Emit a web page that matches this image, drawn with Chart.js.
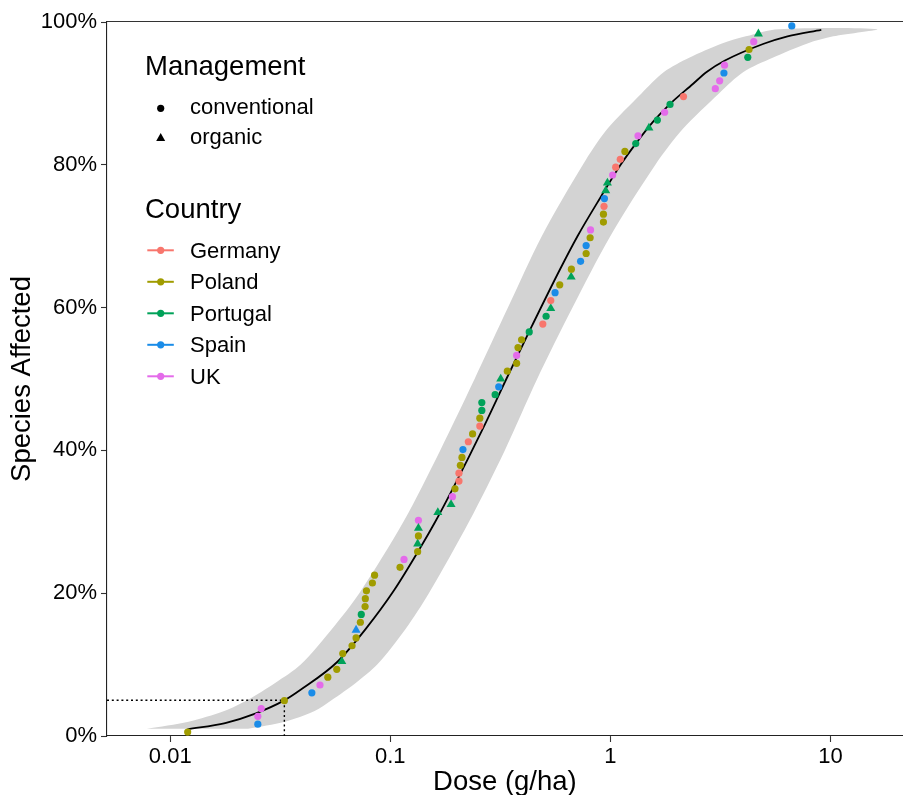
<!DOCTYPE html>
<html><head><meta charset="utf-8">
<script src="https://cdn.jsdelivr.net/npm/chart.js@4.4.1/dist/chart.umd.min.js"></script>
<style>
html,body{margin:0;padding:0;background:#fff;}
#wrap{position:relative;width:908px;height:795px;overflow:hidden;background:#fff;}
#c{position:absolute;left:0;top:0;}
#lgsvg{position:absolute;left:0;top:0;pointer-events:none;}
.lg{position:absolute;line-height:1;white-space:nowrap;color:#000;font-family:"Liberation Sans",Arial,Helvetica,sans-serif;}
</style></head>
<body>
<div id="wrap">
<canvas id="c" width="908" height="795"></canvas>
<svg id="lgsvg" width="908" height="795" xmlns="http://www.w3.org/2000/svg"></svg>
</div>
<script>
// ---------- data ----------
const xTickValues = [0.01, 0.1, 1, 10];
const xTickLabels = ['0.01', '0.1', '1', '10'];
const yTickValues = [0, 20, 40, 60, 80, 100];

const countries = ['Germany', 'Poland', 'Portugal', 'Spain', 'UK'];
const countryColors = ['#F8766D', '#A09C00', '#00A259', '#1A8CE8', '#E46BEA'];
const managementLevels = ['conventional', 'organic'];

const pointDose = [0.0120,0.0250,0.0250,0.0259,0.0330,0.0440,0.0479,0.0520,0.0571,0.0602,
  0.0608,0.0670,0.0699,0.0699,0.0731,0.0738,0.0768,0.0770,0.0779,0.0829,
  0.0848,0.1107,0.1154,0.1331,0.1331,0.1342,0.1342,0.1342,0.1644,0.1888,
  0.1915,0.1967,0.2051,0.2051,0.2081,0.2116,0.2138,0.2262,0.2365,0.2551,
  0.2551,0.2605,0.2605,0.2995,0.3109,0.3174,0.3402,0.3749,0.3749,0.3804,
  0.3949,0.4278,0.4932,0.5104,0.5359,0.5359,0.5605,0.5887,0.6634,0.6650,
  0.7322,0.7760,0.7760,0.8090,0.8124,0.9298,0.9298,0.9356,0.9395,0.9524,
  0.9694,1.024,1.057,1.109,1.164,1.304,1.335,1.497,1.635,1.764,
  1.867,2.149,2.998,3.138,3.281,3.300,4.211,4.268,4.482,4.707,6.673];
const pointPct = [0.55,1.65,2.75,3.85,4.95,6.04,7.14,8.24,9.34,10.44,
  11.54,12.64,13.74,14.84,15.93,17.03,18.13,19.23,20.33,21.43,
  22.53,23.63,24.73,25.82,26.92,28.02,29.12,30.22,31.32,32.42,
  33.52,34.62,35.71,36.81,37.91,39.01,40.11,41.21,42.31,43.41,
  44.51,45.60,46.70,47.80,48.90,50.00,51.10,52.20,53.30,54.40,
  55.49,56.59,57.69,58.79,59.89,60.99,62.09,63.19,64.29,65.38,
  66.48,67.58,68.68,69.78,70.88,71.98,73.08,74.18,75.27,76.37,
  77.47,78.57,79.67,80.77,81.87,82.97,84.07,85.16,86.26,87.36,
  88.46,89.56,90.66,91.76,92.86,93.96,95.05,96.15,97.25,98.35,99.45];
const pointCountry = ['Poland','Spain','UK','UK','Poland','Spain','UK','Poland','Poland','Portugal',
  'Poland','Poland','Poland','Spain','Poland','Portugal','Poland','Poland','Poland','Poland',
  'Poland','Poland','UK','Poland','Portugal','Poland','Portugal','UK','Portugal','Portugal',
  'UK','Poland','Germany','Germany','Poland','Poland','Spain','Germany','Poland','Germany',
  'Poland','Portugal','Portugal','Portugal','Spain','Portugal','Poland','Poland','UK','Poland',
  'Poland','Portugal','Germany','Portugal','Portugal','Germany','Spain','Poland','Portugal','Poland',
  'Spain','Poland','Spain','Poland','UK','Poland','Poland','Germany','Spain','Portugal',
  'Portugal','UK','Germany','Germany','Poland','Portugal','UK','Portugal','Portugal','UK',
  'Portugal','Germany','UK','UK','Spain','UK','Portugal','Poland','UK','Portugal','Spain'];
const pointManagement = ['conventional','conventional','conventional','conventional','conventional','conventional','conventional','conventional','conventional','organic',
  'conventional','conventional','conventional','organic','conventional','conventional','conventional','conventional','conventional','conventional',
  'conventional','conventional','conventional','conventional','organic','conventional','organic','conventional','organic','organic',
  'conventional','conventional','conventional','conventional','conventional','conventional','conventional','conventional','conventional','conventional',
  'conventional','conventional','conventional','conventional','conventional','organic','conventional','conventional','conventional','conventional',
  'conventional','conventional','conventional','conventional','organic','conventional','conventional','conventional','organic','conventional',
  'conventional','conventional','conventional','conventional','conventional','conventional','conventional','conventional','conventional','organic',
  'organic','conventional','conventional','conventional','conventional','conventional','conventional','organic','conventional','conventional',
  'conventional','conventional','conventional','conventional','conventional','conventional','conventional','conventional','conventional','organic','conventional'];

// fitted species-sensitivity curve
const curveDose = [0.01197,0.01777,0.02453,0.03281,0.03897,0.05753,0.07735,0.1040,0.1377,0.1600,
  0.1949,0.2610,0.3367,0.4412,0.5867,0.7088,0.9042,1.1130,1.3076,1.5607,
  1.8335,2.3772,2.7377,3.3161,4.9738,6.3823,9.0871];
const curvePct = [0.94,1.82,3.18,4.95,6.44,10.4,15.0,20.4,26.5,30.0,
  35.0,42.8,50.0,57.5,65.2,70.0,75.5,80.0,83.0,86.0,
  88.3,91.35,93.0,94.6,96.95,98.0,98.9];

// confidence band: dose range for each fraction affected
const bandPct = [1,2,3.5,5,7.5,10,15,20,30,40,50,60,70,80,85,90,93,95,97,98,99];
const bandDoseLow = [0.007816,0.01210,0.01759,0.02233,0.03019,0.03917,0.05430,0.07229,0.1147,0.1685,
  0.2415,0.3424,0.4877,0.7498,0.9673,1.3847,1.7512,2.2804,3.2137,4.1252,5.8126];
const bandDoseHigh = [0.02257,0.03315,0.04529,0.05403,0.07007,0.08717,0.1173,0.1497,0.2278,0.3312,
  0.4648,0.6729,0.9990,1.6015,2.1317,3.1146,4.0234,5.4604,7.8596,10.295,16.267];

// hazardous concentration reference (HC5)
const refDose = 0.033;
const refPct = 5;

// ---------- chart ----------
const FONT = '"Liberation Sans", Arial, Helvetica, sans-serif';
Chart.defaults.font.family = FONT;
Chart.defaults.color = '#000';
const X_MIN = 0.005159, X_MAX = 21.32;

const bandPoly = [];
for (let i = 0; i < bandPct.length; i++) bandPoly.push({x: bandDoseLow[i], y: bandPct[i]});
for (let i = bandPct.length - 1; i >= 0; i--) bandPoly.push({x: bandDoseHigh[i], y: bandPct[i]});

const curveData = curveDose.map((d, i) => ({x: d, y: curvePct[i]}));
const refData = [{x: X_MIN, y: refPct}, {x: refDose, y: refPct}, {x: refDose, y: 0}];

const pointSets = countries.map((c, ci) => {
  const data = [];
  for (let i = 0; i < pointDose.length; i++) {
    if (pointCountry[i] === c) data.push({x: pointDose[i], y: pointPct[i], m: pointManagement[i]});
  }
  return {
    label: c,
    data,
    showLine: false,
    backgroundColor: countryColors[ci],
    borderColor: countryColors[ci],
    pointBorderWidth: 0,
    pointStyle: ctx => (ctx.raw && ctx.raw.m === 'organic') ? 'triangle' : 'circle',
    pointRadius: ctx => (ctx.raw && ctx.raw.m === 'organic') ? 5.2 : 3.6,
    order: 1
  };
});

const datasets = [
  {
    label: 'band', data: bandPoly, showLine: true, fill: 'shape',
    backgroundColor: '#D3D3D3', borderColor: 'rgba(0,0,0,0)', borderWidth: 0,
    pointRadius: 0, tension: 0.3, order: 10
  },
  {
    label: 'curve', data: curveData, showLine: true, fill: false,
    borderColor: '#000', borderWidth: 1.8, pointRadius: 0,
    cubicInterpolationMode: 'monotone', order: 9
  },
  {
    label: 'hc5', data: refData, showLine: true, fill: false,
    borderColor: '#000', borderWidth: 1.4, borderDash: [2, 2.8], pointRadius: 0, order: 8
  },
  ...pointSets
];

new Chart(document.getElementById('c'), {
  type: 'scatter',
  data: {datasets},
  options: {
    responsive: false,
    animation: false,
    events: [],
    layout: {padding: 0},
    plugins: {legend: {display: false}, tooltip: {enabled: false}},
    scales: {
      x: {
        type: 'logarithmic', position: 'bottom', min: X_MIN, max: X_MAX,
        afterBuildTicks: s => { s.ticks = xTickValues.map(v => ({value: v})); },
        afterFit: s => { s.height = 59; },
        ticks: {autoSkip: false, maxRotation: 0, minRotation: 0, padding: 2, color: '#000',
          font: {size: 22}, callback: (v, i) => xTickLabels[i]},
        grid: {drawOnChartArea: false, drawTicks: true, tickLength: 6, tickColor: '#333', tickWidth: 1.1},
        border: {display: true, color: '#222', width: 1.1},
        title: {display: true, text: 'Dose (g/ha)', color: '#000', font: {size: 27.5, lineHeight: 0.9}, padding: {top: 0, bottom: 0}}
      },
      x2: {
        type: 'logarithmic', position: 'top', min: X_MIN, max: X_MAX,
        afterFit: s => { s.height = 22; },
        ticks: {display: false},
        grid: {display: false, drawTicks: false},
        border: {display: true, color: '#333', width: 1.1}
      },
      y: {
        type: 'linear', min: 0, max: 100,
        afterBuildTicks: s => { s.ticks = yTickValues.map(v => ({value: v})); },
        afterFit: s => { s.width = 107; },
        ticks: {padding: 4, color: '#000', font: {size: 22}, callback: v => v + '%'},
        grid: {drawOnChartArea: false, drawTicks: true, tickLength: 6, tickColor: '#333', tickWidth: 1.1},
        border: {display: true, color: '#222', width: 1.1},
        title: {display: true, text: 'Species Affected', color: '#000', font: {size: 27.5, lineHeight: 0.9}, padding: {top: 10, bottom: 0}}
      }
    }
  }
});

// ---------- legend (HTML text + SVG keys) ----------
const wrap = document.getElementById('wrap');
const svg = document.getElementById('lgsvg');
const NS = 'http://www.w3.org/2000/svg';
function addText(txt, left, baseline, size) {
  const d = document.createElement('div');
  d.className = 'lg';
  d.textContent = txt;
  d.style.left = left + 'px';
  d.style.top = (baseline - 0.8465 * size) + 'px';
  d.style.fontSize = size + 'px';
  wrap.appendChild(d);
}
function svgEl(tag, attrs) {
  const e = document.createElementNS(NS, tag);
  for (const k in attrs) e.setAttribute(k, attrs[k]);
  svg.appendChild(e);
  return e;
}
const KEY_X = 160.7;
addText('Management', 145, 75, 27.5);
const mgmtBaselines = [115, 145];
const mgmtKeyY = [108.3, 138.3];
managementLevels.forEach((m, i) => {
  addText(m, 190, mgmtBaselines[i], 22);
  if (m === 'organic') {
    const r = 5.2, cy = mgmtKeyY[i];
    svgEl('polygon', {points: `${KEY_X},${cy - r} ${KEY_X + r * 0.866},${cy + r / 2} ${KEY_X - r * 0.866},${cy + r / 2}`, fill: '#000'});
  } else {
    svgEl('circle', {cx: KEY_X, cy: mgmtKeyY[i], r: 3.6, fill: '#000'});
  }
});
addText('Country', 145, 218.3, 27.5);
countries.forEach((c, i) => {
  const base = 258.3 + i * 31.5;
  const cy = base - 8;
  addText(c, 190, base, 22);
  svgEl('line', {x1: 147.3, x2: 173.8, y1: cy, y2: cy, stroke: countryColors[i], 'stroke-width': 2});
  svgEl('circle', {cx: KEY_X, cy: cy, r: 3.6, fill: countryColors[i]});
});
</script>
</body></html>
